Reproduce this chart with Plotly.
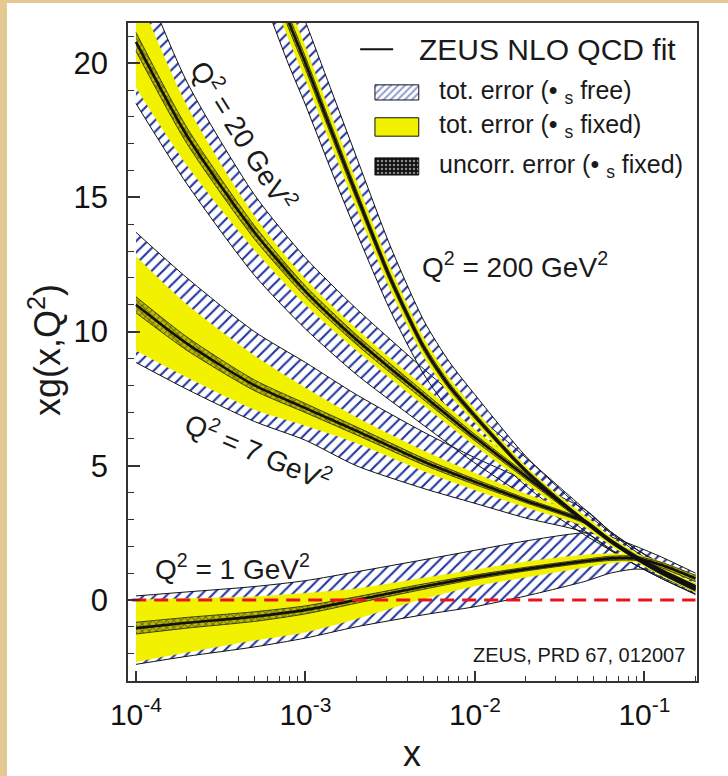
import plotly.graph_objects as go

# ---------------- data ----------------
# Q2 = 1 GeV2
X1 = [1e-4, 2e-4, 5e-4, 1e-3, 2e-3, 5e-3, 1e-2, 2e-2, 4.5e-2, 6.3e-2, 8.9e-2, 0.126, 0.2]
C1 = [-1.05, -0.85, -0.62, -0.37, 0.0, 0.5, 0.85, 1.15, 1.45, 1.55, 1.55, 1.3, 0.8]
Y1_LO = [-2.3, -1.95, -1.5, -1.2, -0.7, 0.05, 0.52, 0.85, 1.22, 1.38, 1.42, 1.18, 0.68]
Y1_HI = [0.0, 0.05, 0.12, 0.25, 0.42, 0.82, 1.12, 1.42, 1.68, 1.72, 1.68, 1.42, 0.92]
H1_LO = [-2.4, -2.1, -1.75, -1.42, -1.0, -0.55, -0.25, 0.15, 0.7, 1.0, 1.15, 1.05, 0.6]
H1_HI = [0.15, 0.3, 0.5, 0.72, 1.05, 1.5, 1.85, 2.2, 2.5, 2.35, 2.0, 1.6, 1.0]
U1_LO = [-1.27, -1.05, -0.8, -0.52, -0.12, 0.4, 0.77, 1.08, 1.38, 1.47, 1.47, 1.2, 0.68]
U1_HI = [-0.83, -0.65, -0.44, -0.22, 0.12, 0.6, 0.93, 1.22, 1.52, 1.63, 1.63, 1.4, 0.92]

# Q2 = 7 GeV2
X7 = [1e-4, 2e-4, 5e-4, 1e-3, 2e-3, 5e-3, 1e-2, 2e-2, 4.5e-2, 6.3e-2, 8.9e-2, 0.126, 0.2]
C7 = [11.0, 9.55, 8.0, 7.15, 6.3, 5.15, 4.4, 3.7, 2.9, 2.2, 1.6, 1.1, 0.5]
Y7_LO = [9.3, 8.3, 7.1, 6.5, 5.85, 4.8, 4.1, 3.45, 2.72, 2.05, 1.47, 0.98, 0.4]
Y7_HI = [12.8, 11.0, 9.1, 7.9, 6.8, 5.55, 4.72, 3.95, 3.1, 2.35, 1.73, 1.22, 0.6]
H7_LO = [8.85, 7.85, 6.65, 5.95, 5.0, 4.15, 3.6, 3.05, 2.5, 1.85, 1.3, 0.85, 0.3]
H7_HI = [13.7, 12.0, 10.0, 8.85, 7.65, 6.25, 5.3, 4.45, 3.35, 2.55, 1.9, 1.35, 0.7]
U7_LO = [10.7, 9.3, 7.8, 6.98, 6.15, 5.03, 4.3, 3.62, 2.83, 2.14, 1.55, 1.05, 0.45]
U7_HI = [11.3, 9.8, 8.2, 7.32, 6.45, 5.27, 4.5, 3.78, 2.97, 2.26, 1.65, 1.15, 0.55]

# Q2 = 20 GeV2
X20 = [1e-4, 2e-4, 5e-4, 1e-3, 2e-3, 5e-3, 1e-2, 2e-2, 4.5e-2, 6.3e-2, 8.9e-2, 0.126, 0.2]
C20 = [20.8, 17.3, 13.7, 11.5, 9.7, 7.6, 6.05, 4.6, 2.9, 2.2, 1.6, 1.05, 0.45]
Y20_LO = [19.1, 16.2, 13.05, 11.0, 9.3, 7.25, 5.75, 4.35, 2.7, 2.05, 1.45, 0.92, 0.32]
Y20_HI = [22.7, 18.4, 14.3, 11.95, 10.1, 7.95, 6.35, 4.85, 3.1, 2.35, 1.75, 1.18, 0.58]
H20_LO = [18.5, 15.5, 12.1, 10.1, 8.4, 6.5, 5.1, 3.85, 2.4, 1.85, 1.3, 0.8, 0.2]
H20_HI = [23.8, 19.3, 15.1, 12.75, 10.85, 8.6, 6.95, 5.3, 3.35, 2.55, 1.9, 1.3, 0.7]
U20_LO = [20.45, 17.0, 13.45, 11.3, 9.52, 7.45, 5.93, 4.5, 2.82, 2.12, 1.52, 0.97, 0.37]
U20_HI = [21.15, 17.6, 13.95, 11.7, 9.88, 7.75, 6.17, 4.7, 2.98, 2.28, 1.68, 1.13, 0.53]

# Q2 = 200 GeV2
X200 = [5.6e-4, 7.9e-4, 1e-3, 1.4e-3, 2e-3, 3.16e-3, 5e-3, 7.1e-3, 1e-2, 2e-2, 4.5e-2, 6.3e-2, 8.9e-2, 0.126, 0.2]
C200 = [24.2, 21.6, 20.0, 17.6, 15.1, 12.0, 9.4, 7.95, 6.85, 4.8, 2.9, 2.2, 1.55, 1.0, 0.38]
Y200_LO = [23.5, 20.95, 19.4, 17.05, 14.6, 11.58, 9.05, 7.65, 6.6, 4.62, 2.78, 2.1, 1.45, 0.9, 0.28]
Y200_HI = [24.9, 22.25, 20.6, 18.15, 15.6, 12.42, 9.75, 8.25, 7.1, 4.98, 3.02, 2.3, 1.65, 1.1, 0.48]
H200_LO = [22.5, 20.0, 18.45, 16.1, 13.7, 10.8, 8.4, 7.05, 6.05, 4.25, 2.55, 1.9, 1.3, 0.8, 0.23]
H200_HI = [25.9, 23.2, 21.55, 19.1, 16.5, 13.2, 10.4, 8.85, 7.65, 5.35, 3.25, 2.5, 1.8, 1.2, 0.53]
U200_LO = [23.9, 21.35, 19.77, 17.4, 14.92, 11.85, 9.27, 7.83, 6.75, 4.72, 2.84, 2.15, 1.5, 0.95, 0.33]
U200_HI = [24.5, 21.85, 20.23, 17.8, 15.28, 12.15, 9.53, 8.07, 6.95, 4.88, 2.96, 2.25, 1.6, 1.05, 0.43]

ZERO_X = [9.5e-5, 0.2]
ZERO_Y = [0, 0]

X_TICKS = [1e-4, 1e-3, 1e-2, 1e-1]
X_TICKTEXT = ["10<sup>-4</sup>", "10<sup>-3</sup>", "10<sup>-2</sup>", "10<sup>-1</sup>"]
Y_TICKS = [0, 5, 10, 15, 20]

LEG_TEXTS = ["tot. error (• <sub>s</sub> free)", "tot. error (• <sub>s</sub> fixed)",
             "uncorr. error (• <sub>s</sub> fixed)"]

# ---------------- style ----------------
FONT = "Liberation Sans, Arial, Helvetica, sans-serif"
BLUE = "#2236a2"
YELLOW = "#f2f200"
TAN = "#e4c993"
INK = "#1a1a1a"

SETS = [
    (X1, C1, Y1_LO, Y1_HI, H1_LO, H1_HI, U1_LO, U1_HI),
    (X7, C7, Y7_LO, Y7_HI, H7_LO, H7_HI, U7_LO, U7_HI),
    (X20, C20, Y20_LO, Y20_HI, H20_LO, H20_HI, U20_LO, U20_HI),
    (X200, C200, Y200_LO, Y200_HI, H200_LO, H200_HI, U200_LO, U200_HI),
]

fig = go.Figure()
SP = dict(shape="spline", smoothing=0.7)

# hatched total-error bands (alpha_s free)
for xs, c, ylo, yhi, hlo, hhi, ulo, uhi in SETS:
    fig.add_trace(go.Scatter(x=xs, y=hlo, mode="lines", line=dict(color="#111", width=1, **SP),
                             showlegend=False, hoverinfo="skip"))
    fig.add_trace(go.Scatter(x=xs, y=hhi, mode="lines", line=dict(color="#111", width=1, **SP),
                             fill="tonexty", fillcolor="rgba(255,255,255,0)",
                             fillpattern=dict(shape="/", fgcolor=BLUE, bgcolor="rgba(255,255,255,0)",
                                              size=8, solidity=0.27, fgopacity=1),
                             showlegend=False, hoverinfo="skip"))
# yellow bands (alpha_s fixed)
for xs, c, ylo, yhi, hlo, hhi, ulo, uhi in SETS:
    fig.add_trace(go.Scatter(x=xs, y=ylo, mode="lines", line=dict(color=YELLOW, width=0.5, **SP),
                             showlegend=False, hoverinfo="skip"))
    fig.add_trace(go.Scatter(x=xs, y=yhi, mode="lines", line=dict(color=YELLOW, width=0.5, **SP),
                             fill="tonexty", fillcolor=YELLOW, showlegend=False, hoverinfo="skip"))
# uncorrelated error bands
for xs, c, ylo, yhi, hlo, hhi, ulo, uhi in SETS:
    fig.add_trace(go.Scatter(x=xs, y=ulo, mode="lines", line=dict(color="#222", width=0.8, **SP),
                             showlegend=False, hoverinfo="skip"))
    fig.add_trace(go.Scatter(x=xs, y=uhi, mode="lines", line=dict(color="#222", width=0.8, **SP),
                             fill="tonexty", fillcolor="rgba(60,60,0,0.3)",
                             fillpattern=dict(shape="x", fgcolor="#111", bgcolor="rgba(60,60,0,0.3)",
                                              size=5, solidity=0.35, fillmode="overlay"),
                             showlegend=False, hoverinfo="skip"))
# central fits
for xs, c, ylo, yhi, hlo, hhi, ulo, uhi in SETS:
    fig.add_trace(go.Scatter(x=xs, y=c, mode="lines", line=dict(color="#111", width=2.6, **SP),
                             showlegend=False, hoverinfo="skip"))

# zero line
fig.add_trace(go.Scatter(x=ZERO_X, y=ZERO_Y, mode="lines",
                         line=dict(color="#e8141c", width=3, dash="14px,8px"),
                         showlegend=False, hoverinfo="skip"))

# ---------------- legend drawn on an overlay axis (fractions of the plot area) ----------------
def box(x0, x1, y0, y1):
    return [x0, x1, x1, x0, x0], [y0, y0, y1, y1, y0]

bx, by = box(0.434, 0.511, 0.883, 0.906)
fig.add_trace(go.Scatter(x=bx, y=by, xaxis="x2", yaxis="y2", mode="lines", fill="toself",
                         line=dict(color="#111", width=1), fillcolor="rgba(255,255,255,1)",
                         fillpattern=dict(shape="/", fgcolor=BLUE, bgcolor="white", size=5, solidity=0.4),
                         showlegend=False, hoverinfo="skip"))
bx, by = box(0.434, 0.511, 0.828, 0.856)
fig.add_trace(go.Scatter(x=bx, y=by, xaxis="x2", yaxis="y2", mode="lines", fill="toself",
                         line=dict(color="#111", width=1), fillcolor=YELLOW,
                         showlegend=False, hoverinfo="skip"))
bx, by = box(0.434, 0.511, 0.769, 0.795)
fig.add_trace(go.Scatter(x=bx, y=by, xaxis="x2", yaxis="y2", mode="lines", fill="toself",
                         line=dict(color="#111", width=1), fillcolor="#111",
                         fillpattern=dict(shape=".", fgcolor="white", bgcolor="#111", size=4, solidity=0.3),
                         showlegend=False, hoverinfo="skip"))
fig.add_trace(go.Scatter(x=[0.408, 0.466], y=[0.960, 0.960], xaxis="x2", yaxis="y2", mode="lines",
                         line=dict(color="#111", width=2), showlegend=False, hoverinfo="skip"))


def note(text, x, y, size, angle=0, xa="center", ya="middle"):
    return dict(text=text, x=x, y=y, xref="paper", yref="paper", xanchor=xa, yanchor=ya,
                textangle=angle, showarrow=False, font=dict(size=size, color=INK))


ann = [note("ZEUS NLO QCD fit", 0.508, 0.960, 30, xa="left")]
for t, yy in zip(LEG_TEXTS, [0.895, 0.843, 0.783]):
    ann.append(note(t, 0.543, yy, 25, xa="left"))

ann.append(note("Q<sup>2</sup> = 20 GeV<sup>2</sup>", 0.204, 0.830, 28, angle=58))
ann.append(note("Q<sup>2</sup> = 7 GeV<sup>2</sup>", 0.230, 0.350, 28, angle=23))
ann.append(note("Q<sup>2</sup> = 200 GeV<sup>2</sup>", 0.680, 0.632, 28))
ann.append(note("Q<sup>2</sup> = 1 GeV<sup>2</sup>", 0.183, 0.173, 28))
ann.append(note("ZEUS, PRD 67, 012007", 0.982, 0.040, 20, xa="right"))
# axis titles
ann.append(note("x", 0.499, -0.1444, 36, ya="bottom"))
ann.append(note("xg(x,Q<sup>2</sup>)", -0.146, 0.503, 36, angle=-90))

minor_x = []
for e in [-4, -3, -2, -1]:
    for k in range(2, 10):
        v = k * 10 ** e
        if v <= 0.2:
            minor_x.append(v)

fig.update_layout(
    width=728, height=776, autosize=False,
    margin=dict(l=128, r=31, t=23, b=95),
    paper_bgcolor="white", plot_bgcolor="white",
    font=dict(family=FONT, color="#111"),
    annotations=ann,
    shapes=[
        # parchment border: left strip and top strip
        dict(type="rect", xref="paper", yref="paper", x0=-0.4, x1=-0.2127, y0=-0.3, y1=1.2,
             fillcolor=TAN, line=dict(width=0), layer="below"),
        dict(type="rect", xref="paper", yref="paper", x0=-0.4, x1=1.3, y0=1.0304, y1=1.2,
             fillcolor=TAN, line=dict(width=0), layer="below"),
    ],
    xaxis=dict(type="log", range=[-4.047, -0.69], showline=True, linecolor="#333", linewidth=1.5,
               mirror=True, ticks="inside", ticklen=10, tickwidth=1.5, tickcolor="#333",
               tickmode="array", tickvals=X_TICKS, ticktext=X_TICKTEXT,
               tickfont=dict(size=30, color="#111"), showgrid=False, zeroline=False,
               ticklabelstandoff=6,
               minor=dict(ticks="inside", ticklen=5, tickwidth=1.2, tickcolor="#333",
                          tickmode="array", tickvals=minor_x, showgrid=False)),
    yaxis=dict(range=[-3.02, 21.5], showline=True, linecolor="#333", linewidth=1.5, mirror=True,
               ticks="inside", ticklen=12, tickwidth=1.5, tickcolor="#333",
               tickmode="array", tickvals=Y_TICKS, tickfont=dict(size=31, color="#111"),
               showgrid=False, zeroline=False, ticklabelstandoff=12,
               minor=dict(ticks="inside", ticklen=6, tickwidth=1.2, tickcolor="#333", dtick=1,
                          showgrid=False)),
    xaxis2=dict(overlaying="x", range=[0, 1], visible=False, fixedrange=True),
    yaxis2=dict(overlaying="y", range=[0, 1], visible=False, fixedrange=True),
)

fig.write_html("out.html")
